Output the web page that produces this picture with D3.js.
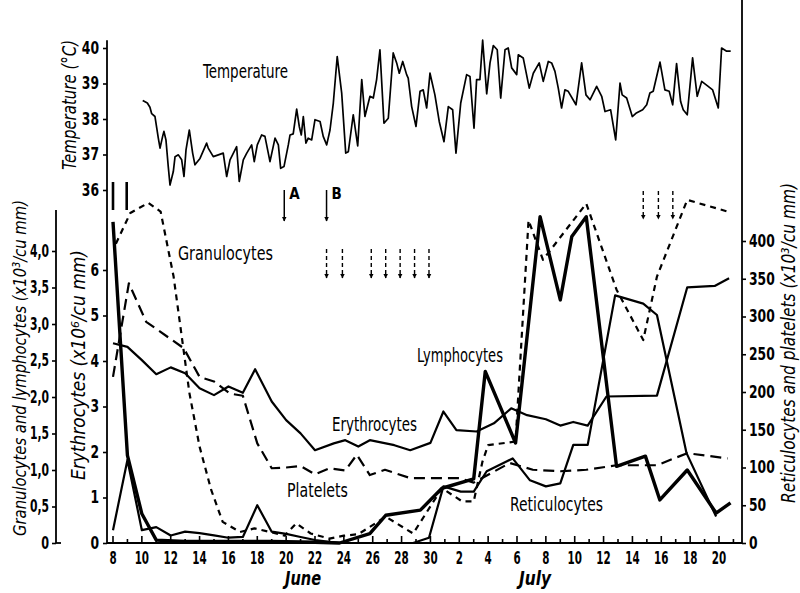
<!DOCTYPE html>
<html><head><meta charset="utf-8">
<script src="https://cdn.jsdelivr.net/npm/d3@7"></script>
<style>
body{margin:0;background:#fff;}
svg{display:block;font-family:'DejaVu Sans Condensed','Liberation Sans Narrow','Roboto Condensed','DejaVu Sans',sans-serif;}
</style></head>
<body><svg id="c" width="800" height="593"></svg>
<script>
// ---- Data (day index: 8 June = 0, 1 July = 23) ----
const lymphDays = [0,1,2,3,5,8,11,14,15.7,17.8,18.9,21.3,22.8,25,25.8,27.9,29.6,31,31.8,32.8,34.9,36.9,37.9,39.8,41.8,42.8];
const lymphVals = [4.4,1.2,0.4,0.04,0.02,0.02,0.02,0.01,0,0.13,0.38,0.45,0.75,0.88,2.35,1.37,4.47,3.33,4.2,4.47,1.05,1.19,0.59,1.0,0.41,0.55];

const granDays = [0.2,1.2,2.45,3.3,4.2,5.3,6,6.8,7.6,8.8,9.8,10.9,11.9,12.7,13.7,15,16,17,18.9,20.8,22.8,24.2,25,25.6,26,27.9,28.8,29.8,32.8,34.9,36.75,37.7,39.8,42.6];
const granVals = [4.1,4.52,4.66,4.54,3.65,2.05,1.32,0.73,0.29,0.15,0.2,0.15,0.1,0.27,0.13,0.06,0.1,0.12,0.36,0.13,0.75,0.57,0.57,1.11,1.34,1.39,4.42,3.88,4.65,3.47,2.78,3.65,4.7,4.54];

const eryDays = [0,1,2,3,4,5,6,7,8,9,9.85,11,12,13,14,15.3,16.1,17,17.8,19.5,20.6,22,22.9,23.8,25.2,26.4,27.6,28.7,30,31,31.9,32.9,34.2,37.7,39.8,41.7,42.7];
const eryVals = [4.39,4.31,4.02,3.71,3.86,3.73,3.40,3.25,3.44,3.30,3.82,3.11,2.70,2.41,2.04,2.19,2.26,2.12,2.26,2.15,2.04,2.2,2.89,2.48,2.45,2.63,2.96,2.81,2.72,2.58,2.66,2.58,3.22,3.24,5.62,5.65,5.82];

const retDays = [0,1,2,3,4,5,6,7,8,9,10,11,12,13,14,15.7,20.8,21.9,22.9,24.1,25,25.9,27.7,28.9,30,31,31.9,32.9,34.8,36.75,37.7,39.75,41.8];
const retVals = [17,110,17,21,10,15,13,10,7,8,50,15,12,8,4,0,0,7,75,68,68,95,112,83,75,79,130,130,328,317,302,119,35];

const pltDays = [0,1.1,2.3,4.9,6,7,8.1,9,10,11,12,13,14,15,16.1,16.9,17.8,18.85,20.6,22.3,24,25,27.5,29.1,31,32.8,34.9,37.7,39.8,42.6];
const pltVals = [220,344,293,258,220,214,198,195,132,99,100,102,91,99,96,117,90,97,86,86,86,80,106,97,95,97,103,103,119,112];

const tempDays = [2.06,2.38,2.56,2.68,2.91,3.14,3.26,3.44,3.53,3.67,3.83,3.95,4.18,4.30,4.53,4.76,4.92,5.06,5.29,5.52,5.68,6.03,6.49,6.60,6.95,7.30,7.64,7.88,8.11,8.57,8.75,9.03,9.27,9.61,9.79,10.0,10.3,10.53,10.88,11.23,11.46,11.62,11.85,12.15,12.27,12.49,12.73,12.91,13.05,13.19,13.37,13.53,13.77,14.0,14.35,14.57,14.81,15.04,15.27,15.54,15.85,16.13,16.31,16.65,16.96,17.24,17.46,17.81,18.04,18.27,18.5,18.78,19.08,19.42,19.66,19.84,20.08,20.35,20.46,20.7,21.0,21.28,21.5,21.74,21.97,22.31,22.61,22.94,23.24,23.54,23.77,24.1,24.51,24.74,25.02,25.2,25.43,25.62,25.9,26.13,26.36,26.63,26.87,27.17,27.39,27.63,27.98,28.09,28.43,28.85,29.13,29.54,29.82,30.17,30.4,30.63,30.86,31.09,31.32,31.55,32.09,32.48,32.78,33.06,33.52,33.87,34.1,34.49,34.84,35.14,35.29,35.6,35.99,36.24,36.71,36.99,37.21,37.44,37.91,38.25,38.55,38.79,39.06,39.34,39.52,39.8,40.17,40.49,40.8,41.25,41.56,41.95,42.18,42.53,42.81];
const tempVals = [38.52,38.45,38.33,38.15,38.07,37.46,37.18,37.51,37.65,37.41,36.66,36.14,36.52,36.94,36.99,36.85,36.38,37.13,37.69,37.04,36.71,36.89,37.32,37.18,36.94,36.99,37.04,36.38,36.85,37.22,36.24,36.85,37.04,37.27,36.80,37.27,37.55,37.51,36.80,37.46,37.27,36.61,36.66,37.27,37.55,37.58,38.28,37.79,37.55,38.07,37.32,37.46,37.41,37.98,37.93,37.51,37.27,37.69,38.45,39.76,38.73,37.04,37.08,38.12,37.24,39.11,38.07,38.64,38.59,39.11,39.95,37.88,38.02,39.86,39.58,39.29,39.62,39.25,39.15,38.35,37.79,38.78,38.82,38.31,39.29,38.68,37.93,37.36,38.35,38.26,37.04,38.45,39.25,39.2,37.74,39.11,39.11,40.22,38.71,39.58,40.07,39.95,38.59,39.95,40.0,39.44,39.25,39.81,39.72,38.87,39.29,39.58,39.06,39.62,39.58,39.34,38.87,38.31,38.82,38.78,38.4,39.58,38.68,38.54,38.92,38.64,38.21,38.26,37.41,39.01,38.68,38.59,38.07,38.16,38.26,38.4,38.73,38.78,39.6,38.82,38.78,38.4,39.56,38.49,38.26,38.12,39.72,38.64,39.06,38.92,38.82,38.31,40.0,39.91,39.91,40.33];

const xTickLabels = ["8","10","12","14","16","18","20","22","24","26","28","30","2","4","6","8","10","12","14","16","18","20"];
const granTicks = [0,0.5,1,1.5,2,2.5,3,3.5,4];
const eryTicks = [0,1,2,3,4,5,6];
const tempTicks = [36,37,38,39,40];
const rightTicks = [0,50,100,150,200,250,300,350,400];
const solidArrows = [{day:11.87,label:"A"},{day:14.8,label:"B"}];
const transfusionDays = [14.8,15.9,17.9,18.9,19.9,20.9,21.9];
const lateTransfusionDays = [36.75,37.8,38.8];
const markerDays = [0,0.95];

// ---- Scales ----
const svg = d3.select("#c");
const x = d3.scaleLinear().domain([0,42]).range([113,719]);
const yGran = d3.scaleLinear().domain([0,4]).range([543,251]);
const yEry = d3.scaleLinear().domain([0,6]).range([543,270]);
const yRight = d3.scaleLinear().domain([0,400]).range([543,241]);
const yTemp = d3.scaleLinear().domain([36,40]).range([190,48]);

// narrow-glyph width estimate for condensed numerals
function numWidth(s, w){ return s.split("").reduce((a,c)=> a + (c===","? w*0.45 : w), 0); }

function styleAxis(g, w){
  g.selectAll("path.domain").remove();
  g.selectAll(".tick line").attr("stroke","#000").attr("stroke-width",1.6);
  g.selectAll(".tick text").attr("fill","#000").attr("font-size",17).attr("font-weight","bold")
    .attr("font-family","'DejaVu Sans Condensed','Liberation Sans Narrow','Roboto Condensed','DejaVu Sans',sans-serif")
    .each(function(){ const t=d3.select(this); t.attr("textLength", numWidth(t.text(),w||8.6)).attr("lengthAdjust","spacingAndGlyphs"); });
}

// axis lines
const axisLines = svg.append("g").attr("stroke","#000").attr("stroke-width",1.8);
axisLines.append("line").attr("x1",107).attr("x2",107).attr("y1",yTemp(40.22)).attr("y2",543);
axisLines.append("line").attr("x1",56).attr("x2",56).attr("y1",yGran(4.56)).attr("y2",543);
axisLines.append("line").attr("x1",56).attr("x2",61).attr("y1",543).attr("y2",543);
axisLines.append("line").attr("x1",742).attr("x2",742).attr("y1",0).attr("y2",543);
axisLines.append("line").attr("x1",107).attr("x2",742).attr("y1",543).attr("y2",543);

// left axes
svg.append("g").attr("transform","translate(107,0)")
  .call(d3.axisLeft(yEry).tickValues(eryTicks).tickFormat(d3.format("d")).tickSize(4).tickPadding(4))
  .call(styleAxis);
svg.append("g").attr("transform","translate(107,0)")
  .call(d3.axisLeft(yTemp).tickValues(tempTicks).tickFormat(d3.format("d")).tickSize(4).tickPadding(4))
  .call(styleAxis);
svg.append("g").attr("transform","translate(56,0)")
  .call(d3.axisLeft(yGran).tickValues(granTicks).tickFormat(d => d===0 ? "0" : d3.format(".1f")(d).replace(".",",")).tickSize(4).tickPadding(3))
  .call(g => styleAxis(g, 7.8));
// right axis
svg.append("g").attr("transform","translate(742,0)")
  .call(d3.axisRight(yRight).tickValues(rightTicks).tickFormat(d3.format("d")).tickSize(4).tickPadding(3))
  .call(styleAxis);

// bottom axis ticks (every day, pointing up)
const dayTicks = d3.range(0,44);
svg.append("g").selectAll("line").data(dayTicks).join("line")
  .attr("x1",d=>x(d)).attr("x2",d=>x(d)).attr("y1",543).attr("y2",d=> d%2===0 ? 536 : 539)
  .attr("stroke","#000").attr("stroke-width",1.6);
svg.append("g").selectAll("text").data(xTickLabels).join("text")
  .attr("x",(d,i)=>x(i*2)).attr("y",564).attr("text-anchor","middle")
  .attr("font-size",17).attr("font-weight","bold")
  .attr("textLength",d=>numWidth(d,7.2)).attr("lengthAdjust","spacingAndGlyphs").text(d=>d);

// series
function draw(days, vals, y, width, dash){
  const pts = days.map((d,i)=>[d, vals[i]]);
  svg.append("path").datum(pts)
    .attr("d", d3.line().x(d=>x(d[0])).y(d=>y(d[1])))
    .attr("fill","none").attr("stroke","#000").attr("stroke-width",width)
    .attr("stroke-linejoin","round")
    .attr("stroke-dasharray", dash || null);
}
draw(tempDays, tempVals, yTemp, 1.7);
draw(eryDays, eryVals, yEry, 2.2);
draw(retDays, retVals, yRight, 2.2);
draw(pltDays, pltVals, yRight, 2.2, "11,6");
draw(granDays, granVals, yGran, 2.2, "6,5");
draw(lymphDays, lymphVals, yGran, 3.4);

// arrows
const defs = svg.append("defs");
defs.append("marker").attr("id","ah").attr("viewBox","0 0 10 10").attr("refX",9).attr("refY",5)
  .attr("markerWidth",5).attr("markerHeight",7).attr("orient","auto").attr("markerUnits","userSpaceOnUse")
  .append("path").attr("d","M0,0 L10,5 L0,10 Z").attr("fill","#000");
const ag = svg.append("g");
ag.selectAll("line.s").data(solidArrows).join("line").attr("class","s")
  .attr("x1",d=>x(d.day)).attr("x2",d=>x(d.day)).attr("y1",190).attr("y2",221)
  .attr("stroke","#000").attr("stroke-width",1.5).attr("marker-end","url(#ah)");
ag.selectAll("text").data(solidArrows).join("text")
  .attr("x",d=>x(d.day)+5).attr("y",199).attr("font-size",15).attr("font-weight","bold").text(d=>d.label);
ag.selectAll("line.t").data(transfusionDays).join("line").attr("class","t")
  .attr("x1",d=>x(d)).attr("x2",d=>x(d)).attr("y1",249).attr("y2",278)
  .attr("stroke","#000").attr("stroke-width",1.4).attr("stroke-dasharray","4,3").attr("marker-end","url(#ah)");
ag.selectAll("line.u").data(lateTransfusionDays).join("line").attr("class","u")
  .attr("x1",d=>x(d)).attr("x2",d=>x(d)).attr("y1",191).attr("y2",219)
  .attr("stroke","#000").attr("stroke-width",1.4).attr("stroke-dasharray","4,3").attr("marker-end","url(#ah)");
ag.selectAll("line.m").data(markerDays).join("line").attr("class","m")
  .attr("x1",d=>x(d)).attr("x2",d=>x(d)).attr("y1",182).attr("y2",210)
  .attr("stroke","#000").attr("stroke-width",2.6);

// labels
function label(t, px, py, len, size, opts={}){
  const el = svg.append("text").attr("x",px).attr("y",py).attr("font-size",size)
    .attr("text-anchor", opts.anchor || "start").text(t);
  if(len){ el.attr("textLength",len).attr("lengthAdjust","spacingAndGlyphs"); }
  if(opts.italic) el.attr("font-style","italic");
  if(opts.rot!==undefined) el.attr("transform",`rotate(${opts.rot},${px},${py})`);
  if(opts.weight) el.attr("font-weight",opts.weight);
  return el;
}
label("Temperature",203,78,85,20);
label("Granulocytes",178,260,95,19);
label("Lymphocytes",417,362,86,19);
label("Erythrocytes",332,431,85,19);
label("Platelets",287,497,61,19);
label("Reticulocytes",510,511,93,19);
label("June",303,585,36,19,{anchor:"middle",italic:true,weight:"bold"});
label("July",535,585,32,19,{anchor:"middle",italic:true,weight:"bold"});
label("Temperature (°C)",76,105,130,19,{anchor:"middle",italic:true,rot:-90});
label("Granulocytes and lymphocytes (x10³/cu mm)",26,368,336,18,{anchor:"middle",italic:true,rot:-90});
label("Erythrocytes (x10⁶/cu mm)",85,365,230,19,{anchor:"middle",italic:true,rot:-90});
label("Reticulocytes and platelets (x10³/cu mm)",795,343,320,19,{anchor:"middle",italic:true,rot:-90});
</script></body></html>
